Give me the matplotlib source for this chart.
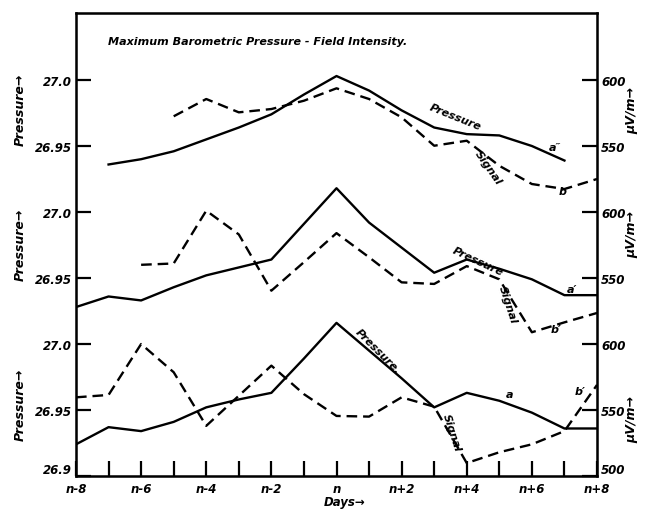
import matplotlib.pyplot as plt
import numpy as np

# days relative to n
days = np.arange(-8, 9)
day_ticks = [-8, -6, -4, -2, 0, 2, 4, 6, 8]
day_labels = ["n-8", "n-6", "n-4", "n-2", "n", "n+2", "n+4", "n+6", "n+8"]

# lower curves (a, b')
low_p_days = days
low_pressure = [26.924, 26.937, 26.934, 26.941, 26.952, 26.958, 26.963, 26.989, 27.016,
                26.995, 26.974, 26.952, 26.963, 26.957, 26.948, 26.936, 26.936]
low_s_days = days
low_signal = [559.6, 561.4, 600.0, 578.6, 538.0, 560.8, 583.6, 562.0, 545.5,
              545.0, 559.6, 552.5, 509.8, 518.0, 524.0, 534.0, 569.0]

# middle curves (a', b')
mid_p_days = days
mid_pressure = [26.928, 26.936, 26.933, 26.943, 26.952, 26.958, 26.964, 26.991, 27.018,
                26.992, 26.973, 26.954, 26.964, 26.957, 26.949, 26.937, 26.937]
mid_s_days = np.arange(-6, 9)
mid_signal = [560.0, 561.0, 601.0, 583.0, 540.4, 562.0, 584.0,
              565.7, 546.7, 545.5, 559.0, 549.0, 508.9, 516.4, 523.5]

# upper curves (a'', b'')
top_p_days = np.arange(-7, 8)
top_pressure = [26.936, 26.940, 26.946, 26.955, 26.964, 26.974, 26.989, 27.003,
                26.992, 26.977, 26.964, 26.959, 26.958, 26.950, 26.939]
top_s_days = np.arange(-5, 9)
top_signal = [572.5, 585.6, 575.5, 578.0, 584.3, 593.7,
              585.6, 571.7, 550.2, 554.0, 535.0, 521.2, 517.4, 525.0]

fig = plt.figure(figsize=(6.45, 5.1), dpi=100)
rect = [76 / 645, 33 / 510, 521 / 645, 463 / 510]
p_span = 463 / 1320.0
s_span = 463 / 1.32

font = dict(style="italic", fontweight="bold", family="DejaVu Sans")


def panel(pd_, pv, sd, sv, p_lo, s_lo, p_ticks, p_labels, s_ticks, s_labels, base=False):
    axp = fig.add_axes(rect, facecolor="none" if not base else "white")
    axs = fig.add_axes(rect, facecolor="none")
    for a in (axp, axs):
        a.set_xlim(-8, 8)
        if not base:
            for sp in a.spines.values():
                sp.set_visible(False)
    axp.set_ylim(p_lo, p_lo + p_span)
    axs.set_ylim(s_lo, s_lo + s_span)
    axp.plot(pd_, pv, color="black", lw=1.7, solid_joinstyle="round")
    axs.plot(sd, sv, color="black", lw=1.7, ls=(0, (4.5, 2.5)))
    axp.set_yticks(p_ticks)
    axp.set_yticklabels(p_labels, fontsize=8.5, **font)
    axp.tick_params(axis="y", direction="in", length=11, width=1.6, left=True, right=False, pad=3)
    axs.yaxis.tick_right()
    axs.set_yticks(s_ticks)
    axs.set_yticklabels(s_labels, fontsize=8.5, **font)
    axs.tick_params(axis="y", direction="in", length=11, width=1.6, pad=3)
    if base:
        axp.set_xticks(days, minor=True)
        axp.set_xticks(day_ticks)
        axp.set_xticklabels(day_labels, fontsize=8.5, **font)
        axp.tick_params(axis="x", which="both", direction="in", length=11, width=1.6, pad=4)
        for sp in axp.spines.values():
            sp.set_linewidth(1.8)
        axp.get_yticklabels()[0].set_va("bottom")
        axs.get_yticklabels()[0].set_va("bottom")
    else:
        axp.set_xticks([])
    axs.set_xticks([])
    return axp, axs


panel(low_p_days, low_pressure, low_s_days, low_signal, 26.9, 500,
      [26.9, 26.95, 27.0], ["26.9", "26.95", "27.0"], [500, 550, 600], ["500", "550", "600"], base=True)
panel(mid_p_days, mid_pressure, mid_s_days, mid_signal, 26.8, 400,
      [26.95, 27.0], ["26.95", "27.0"], [550, 600], ["550", "600"])
panel(top_p_days, top_pressure, top_s_days, top_signal, 26.7, 300,
      [26.95, 27.0], ["26.95", "27.0"], [550, 600], ["550", "600"])


def px(x, y):
    return x / 645, 1 - y / 510


fig.text(*px(258, 42), "Maximum Barometric Pressure - Field Intensity.", fontsize=8,
         ha="center", va="center", **font)
fig.text(*px(345, 503), "Days\u2192", fontsize=8.5, ha="center", va="center", **font)
for y in (110, 245, 405):
    fig.text(*px(20, y), "Pressure\u2192", rotation=90, fontsize=9, ha="center", va="center", **font)
for y in (110, 235, 420):
    fig.text(*px(632, y), "\u00b5V/m\u2192", rotation=90, fontsize=9, ha="center", va="center", **font)

notes = [
    (455, 117, "Pressure", -22), (488, 168, "Signal", -55), (555, 148, "a\u2033", 0), (565, 192, "b\u2033", 0),
    (478, 262, "Pressure", -25), (508, 305, "Signal", -72), (572, 290, "a\u2032", 0), (556, 330, "b\u2032", 0),
    (378, 352, "Pressure.", -45), (452, 433, "Signal", -72), (510, 395, "a", 0), (580, 392, "b\u2032", 0),
]
for x, y, s, r in notes:
    fig.text(*px(x, y), s, rotation=r, fontsize=8, ha="center", va="center", **font)

fig.savefig("out.png", dpi=100)
